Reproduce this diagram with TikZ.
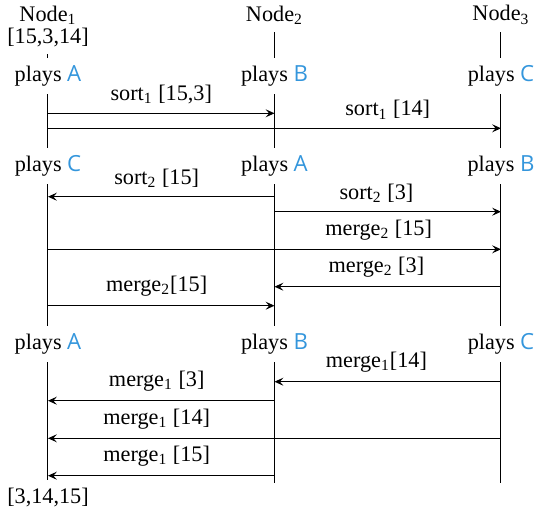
\documentclass[tikz,border=0pt]{standalone}
\usepackage{fontspec}
\setmainfont{Liberation Serif}
\newfontfamily\rolefont{Open Sans}
\usetikzlibrary{arrows.meta}
\definecolor{roleblue}{RGB}{52,150,220}
\newcommand{\role}[1]{{\rolefont\color{roleblue}#1}}
\newcommand{\plays}[1]{plays \role{#1}}
\begin{document}
\begin{tikzpicture}[x=0.45pt, y=-0.45pt, font=\normalsize,
		life/.style = {draw, line width=0.45pt},
		msg/.style = {draw, line width=0.45pt, -{Stealth[length=4pt, width=3.6pt, inset=1.6pt]}},
		lbl/.style = {above=0.6pt}]
	\useasboundingbox (0,0) rectangle (537,512);
	% heads
	\node (n1) at (48,15) {Node\textsubscript{1}};
	\node (in1) at (48,37) {[15,3,14]};
	\node (n2) at (274.5,15) {Node\textsubscript{2}};
	\node (n3) at (501,15) {Node\textsubscript{3}};
	% roles
	\node (p11) at (48,76) {\plays{A}};
	\node (p12) at (274.5,76) {\plays{B}};
	\node (p13) at (501,76) {\plays{C}};
	\node (p21) at (48,166) {\plays{C}};
	\node (p22) at (274.5,166) {\plays{A}};
	\node (p23) at (501,166) {\plays{B}};
	\node (p31) at (48,344) {\plays{A}};
	\node (p32) at (274.5,344) {\plays{B}};
	\node (p33) at (501,344) {\plays{C}};
	\node (out1) at (48,497) {[3,14,15]};
	\coordinate (e2) at (274.5,483);
	\coordinate (e3) at (501,483);
	% lifelines
	\draw[life] (in1) -- (p11);
	\draw[life] (n2) -- (p12);
	\draw[life] (n3) -- (p13);
	\draw[life] (p11) -- (p21);
	\draw[life] (p12) -- (p22);
	\draw[life] (p13) -- (p23);
	\draw[life] (p21) -- (p31);
	\draw[life] (p22) -- (p32);
	\draw[life] (p23) -- (p33);
	\draw[life] (p31) -- (out1);
	\draw[life] (p32) -- (e2);
	\draw[life] (p33) -- (e3);
	% sort 1
	\coordinate (a1) at (48,113.3); \coordinate (b1) at (274.5,113.3);
	\coordinate (a2) at (48,128.3); \coordinate (b2) at (501,128.3);
	\draw[msg] (a1) -- node[lbl]{sort\textsubscript{1} [15,3]} (b1);
	\draw[msg] (a2) -- node[lbl, pos=.75]{sort\textsubscript{1} [14]} (b2);
	% sort 2 / merge 2
	\coordinate (a3) at (274.5,196.7); \coordinate (b3) at (48,196.7);
	\coordinate (a4) at (274.5,211.7); \coordinate (b4) at (501,211.7);
	\coordinate (a5) at (48,249.3); \coordinate (b5) at (501,249.3);
	\coordinate (a6) at (501,286.7); \coordinate (b6) at (274.5,286.7);
	\coordinate (a7) at (48,305.7); \coordinate (b7) at (274.5,305.7);
	\draw[msg] (a3) -- node[lbl, pos=.52]{sort\textsubscript{2} [15]} (b3);
	\draw[msg] (a4) -- node[lbl, pos=.45]{sort\textsubscript{2} [3]} (b4);
	\draw[msg] (a5) -- node[lbl, pos=.73]{merge\textsubscript{2} [15]} (b5);
	\draw[msg] (a6) -- node[lbl, pos=.55]{merge\textsubscript{2} [3]} (b6);
	\draw[msg] (a7) -- node[lbl, pos=.48]{merge\textsubscript{2}[15]} (b7);
	% merge 1
	\coordinate (a8) at (501,381.7); \coordinate (b8) at (274.5,381.7);
	\coordinate (a9) at (274.5,400.7); \coordinate (b9) at (48,400.7);
	\coordinate (a10) at (501,438.3); \coordinate (b10) at (48,438.3);
	\coordinate (a11) at (274.5,475.7); \coordinate (b11) at (48,475.7);
	\draw[msg] (a8) -- node[lbl, pos=.55]{merge\textsubscript{1}[14]} (b8);
	\draw[msg] (a9) -- node[lbl, pos=.52]{merge\textsubscript{1} [3]} (b9);
	\draw[msg] (a10) -- node[lbl, pos=.76]{merge\textsubscript{1} [14]} (b10);
	\draw[msg] (a11) -- node[lbl, pos=.52]{merge\textsubscript{1} [15]} (b11);
\end{tikzpicture}
\end{document}
